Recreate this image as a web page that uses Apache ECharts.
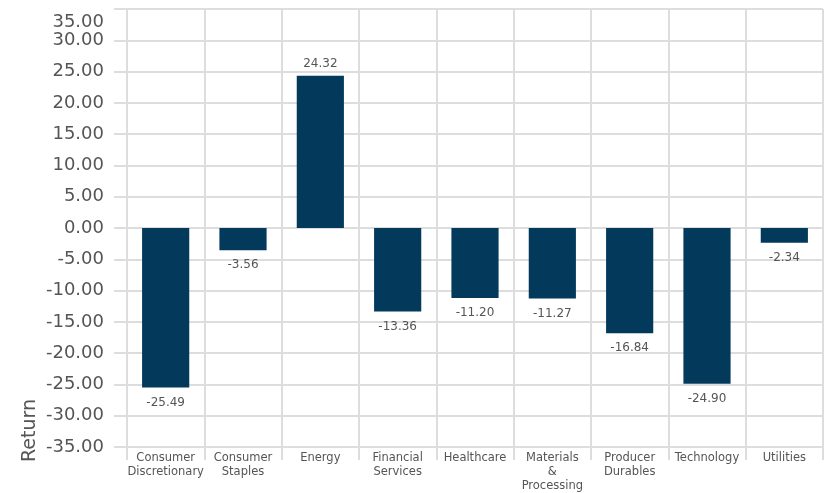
<!DOCTYPE html>
<html>
<head>
<meta charset="utf-8">
<script src="https://cdn.jsdelivr.net/npm/echarts@6/dist/echarts.min.js"></script>
<style>html,body{margin:0;padding:0;background:#fff}#c{width:827px;height:493px}</style>
</head>
<body>
<div id="c"></div>
<script>
const categories = ["Consumer Discretionary","Consumer Staples","Energy","Financial Services","Healthcare","Materials & Processing","Producer Durables","Technology","Utilities"];
const returns = [-25.49, -3.56, 24.32, -13.36, -11.20, -11.27, -16.84, -24.90, -2.34];
const yMin = -35, yMax = 35, yStep = 5;
const axisName = "Return";

const chart = echarts.init(document.getElementById('c'));
const gridColor = '#dddddd';
const font = 'DejaVu Sans, Verdana, sans-serif';
chart.setOption({
  animation: false,
  grid: {left: 127, right: 4, top: 9, bottom: 42},
  xAxis: {
    type: 'category',
    data: categories,
    axisLine: {show: true, onZero: false, lineStyle: {color: gridColor, width: 2}},
    axisTick: {show: true, length: 13, lineStyle: {color: gridColor, width: 2}},
    splitLine: {show: true, lineStyle: {color: gridColor, width: 2}},
    axisLabel: {
      interval: 0, margin: 4, color: '#555', fontSize: 11.5, fontFamily: font, lineHeight: 14,
      formatter: v => v.split(' ').join('\n')
    }
  },
  yAxis: {
    type: 'value', min: yMin, max: yMax, interval: yStep,
    axisLine: {show: true, lineStyle: {color: gridColor, width: 2}},
    axisTick: {show: true, length: 13, lineStyle: {color: gridColor, width: 2}},
    splitLine: {show: true, lineStyle: {color: gridColor, width: 2}},
    axisLabel: {
      margin: 23, color: '#555', fontSize: 18, fontFamily: font,
      showMaxLabel: true, showMinLabel: true, hideOverlap: false,
      formatter: v => v === yMax ? '{top|' + v.toFixed(2) + '}' : v.toFixed(2),
      rich: {top: {fontSize: 18, fontFamily: font, color: '#555', padding: [26, 0, 0, 0]}}
    }
  },
  graphic: [{
    type: 'text', x: 30, y: 462, rotation: Math.PI / 2,
    style: {text: axisName, fontSize: 19, fontFamily: font, fill: '#555', textAlign: 'left', textVerticalAlign: 'middle'}
  }],
  series: [{
    type: 'bar',
    barWidth: '61%',
    itemStyle: {color: '#03395b'},
    data: returns.map(v => ({value: v, label: v < 0 ? {position: 'bottom', distance: 9} : {position: 'top', distance: 6}})),
    label: {
      show: true, color: '#555', fontSize: 12, fontFamily: font,
      formatter: p => p.value.toFixed(2)
    }
  }]
});
</script>
</body>
</html>
